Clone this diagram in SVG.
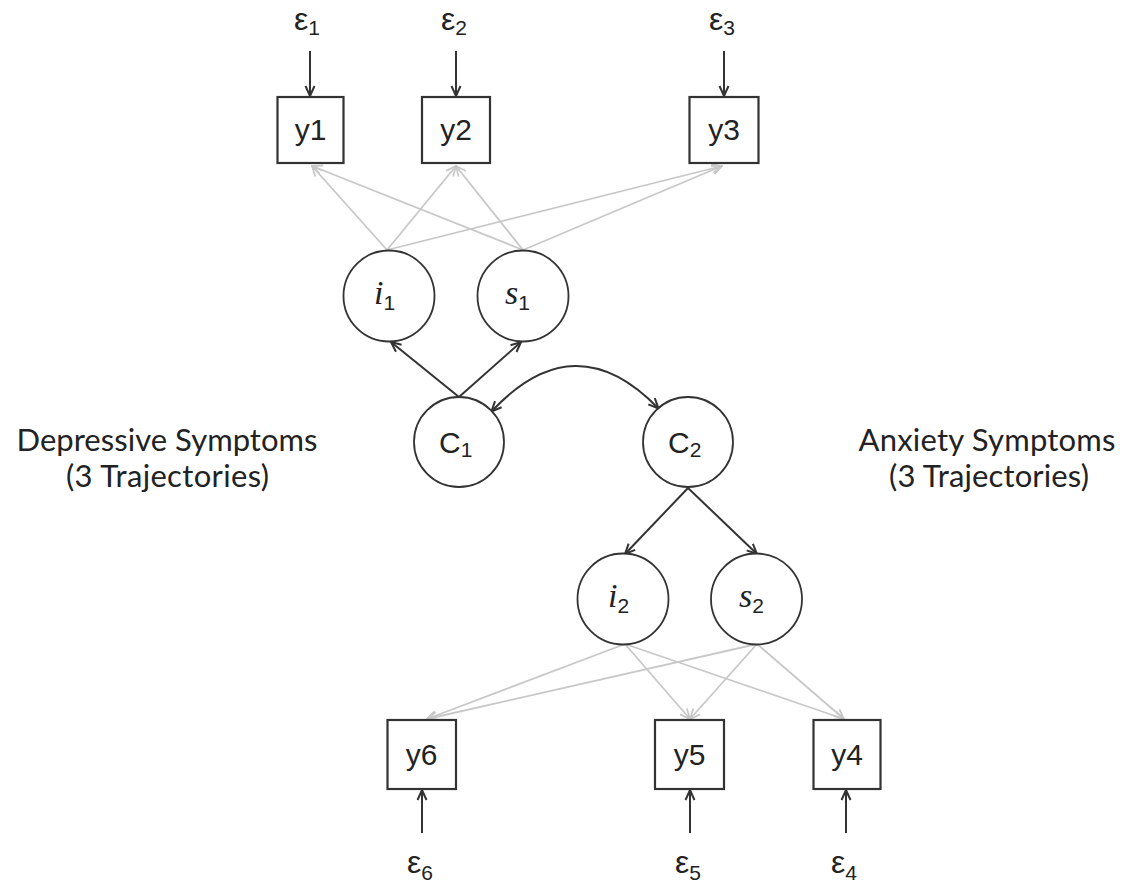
<svg xmlns="http://www.w3.org/2000/svg" width="1129" height="886" viewBox="0 0 1129 886">
<style>
.box{fill:#fff;stroke:#333;stroke-width:2.2}
.circ{fill:#fff;stroke:#333;stroke-width:1.8}
.blk{fill:none;stroke:#333;stroke-width:2}
.gry{fill:none;stroke:#c8c8c8;stroke-width:1.8}
.lbl{font-family:"Liberation Sans",Arial,sans-serif;font-size:30px;fill:#222}
.sub{font-family:"Liberation Sans",Arial,sans-serif;font-size:21px;fill:#222}
.it{font-family:"Liberation Serif","Times New Roman",serif;font-style:italic;font-size:34px;fill:#222}
.eps{font-family:"Liberation Sans",Arial,sans-serif;font-size:32px;fill:#222}
.cap{font-family:Lato,"Open Sans",sans-serif;font-size:31px;fill:#222}
</style>
<defs>
<marker id="ab" viewBox="0 0 12 12" refX="11" refY="6" markerWidth="12" markerHeight="12" markerUnits="userSpaceOnUse" orient="auto-start-reverse">
<path d="M1,1.5 L11,6 L1,10.5" fill="none" stroke="#333" stroke-width="2"/>
</marker>
<marker id="ag" viewBox="0 0 12 12" refX="11" refY="6" markerWidth="12" markerHeight="12" markerUnits="userSpaceOnUse" orient="auto">
<path d="M1,1.5 L11,6 L1,10.5" fill="none" stroke="#c8c8c8" stroke-width="1.8"/>
</marker>
</defs>
<rect width="1129" height="886" fill="#fff"/>

<g id="connectors">
<line class="gry" x1="387" y1="250" x2="312" y2="166" marker-end="url(#ag)"/>
<line class="gry" x1="387" y1="250" x2="456" y2="166" marker-end="url(#ag)"/>
<line class="gry" x1="387" y1="250" x2="722" y2="166" marker-end="url(#ag)"/>
<line class="gry" x1="523" y1="250" x2="312" y2="166" marker-end="url(#ag)"/>
<line class="gry" x1="523" y1="250" x2="456" y2="166" marker-end="url(#ag)"/>
<line class="gry" x1="523" y1="250" x2="722" y2="166" marker-end="url(#ag)"/>
<line class="gry" x1="625" y1="644" x2="427" y2="719" marker-end="url(#ag)"/>
<line class="gry" x1="625" y1="644" x2="690" y2="719" marker-end="url(#ag)"/>
<line class="gry" x1="625" y1="644" x2="844" y2="719" marker-end="url(#ag)"/>
<line class="gry" x1="757" y1="644" x2="427" y2="719" marker-end="url(#ag)"/>
<line class="gry" x1="757" y1="644" x2="690" y2="719" marker-end="url(#ag)"/>
<line class="gry" x1="757" y1="644" x2="844" y2="719" marker-end="url(#ag)"/>
<line class="blk" x1="459" y1="397" x2="391" y2="342" marker-end="url(#ab)"/>
<line class="blk" x1="459" y1="397" x2="521" y2="342" marker-end="url(#ab)"/>
<line class="blk" x1="688" y1="488" x2="625" y2="554" marker-end="url(#ab)"/>
<line class="blk" x1="688" y1="488" x2="757" y2="554" marker-end="url(#ab)"/>
<path class="blk" d="M491.5,411.5 Q575,322 658.5,408.5" marker-start="url(#ab)" marker-end="url(#ab)"/>
<line class="blk" x1="310" y1="51" x2="310" y2="96" marker-end="url(#ab)"/>
<line class="blk" x1="456" y1="51" x2="456" y2="96" marker-end="url(#ab)"/>
<line class="blk" x1="724" y1="51" x2="724" y2="96" marker-end="url(#ab)"/>
<line class="blk" x1="422" y1="833" x2="422" y2="790" marker-end="url(#ab)"/>
<line class="blk" x1="690" y1="833" x2="690" y2="790" marker-end="url(#ab)"/>
<line class="blk" x1="846" y1="833" x2="846" y2="790" marker-end="url(#ab)"/>
</g>

<g id="y1"><rect class="box" x="277.5" y="97" width="66" height="66"/><text class="lbl" x="310.5" y="140" text-anchor="middle">y1</text></g>
<g id="y2"><rect class="box" x="422" y="97" width="68" height="66"/><text class="lbl" x="456" y="140" text-anchor="middle">y2</text></g>
<g id="y3"><rect class="box" x="689.5" y="97" width="69" height="66"/><text class="lbl" x="724" y="140" text-anchor="middle">y3</text></g>

<g id="y6"><rect class="box" x="387.5" y="720" width="68.5" height="69"/><text class="lbl" x="421.7" y="765" text-anchor="middle">y6</text></g>
<g id="y5"><rect class="box" x="655" y="720" width="69" height="69"/><text class="lbl" x="689.5" y="765" text-anchor="middle">y5</text></g>
<g id="y4"><rect class="box" x="813.5" y="720" width="67" height="69"/><text class="lbl" x="847" y="765" text-anchor="middle">y4</text></g>

<g id="e1"><text class="eps" x="294" y="30">ε<tspan class="sub" dy="5">1</tspan></text></g>
<g id="e2"><text class="eps" x="441" y="30">ε<tspan class="sub" dy="5">2</tspan></text></g>
<g id="e3"><text class="eps" x="709" y="30">ε<tspan class="sub" dy="5">3</tspan></text></g>
<g id="e6"><text class="eps" x="407" y="873">ε<tspan class="sub" dy="7">6</tspan></text></g>
<g id="e5"><text class="eps" x="675" y="873">ε<tspan class="sub" dy="7">5</tspan></text></g>
<g id="e4"><text class="eps" x="831" y="873">ε<tspan class="sub" dy="7">4</tspan></text></g>

<g id="i1"><circle class="circ" cx="389" cy="296" r="45.5"/><text class="it" x="374" y="304">i<tspan class="sub" dy="6" font-style="normal">1</tspan></text></g>
<g id="s1"><circle class="circ" cx="523" cy="296" r="45.5"/><text class="it" x="505" y="304">s<tspan class="sub" dy="6" font-style="normal">1</tspan></text></g>
<g id="C1"><circle class="circ" cx="459" cy="442" r="45"/><text class="lbl" x="439" y="453">C<tspan class="sub" dy="4">1</tspan></text></g>
<g id="C2"><circle class="circ" cx="688" cy="442" r="45"/><text class="lbl" x="668" y="453">C<tspan class="sub" dy="4">2</tspan></text></g>
<g id="i2"><circle class="circ" cx="623" cy="599" r="45.5"/><text class="it" x="608" y="607">i<tspan class="sub" dy="6" font-style="normal">2</tspan></text></g>
<g id="s2"><circle class="circ" cx="756.5" cy="599" r="45.5"/><text class="it" x="739" y="607">s<tspan class="sub" dy="6" font-style="normal">2</tspan></text></g>

<g id="dep"><text class="cap" x="167" y="451" text-anchor="middle" textLength="301">Depressive Symptoms</text><text class="cap" x="167.5" y="487" text-anchor="middle" textLength="203">(3 Trajectories)</text></g>
<g id="anx"><text class="cap" x="987" y="451" text-anchor="middle" textLength="257">Anxiety Symptoms</text><text class="cap" x="989" y="487" text-anchor="middle" textLength="200">(3 Trajectories)</text></g>
</svg>
